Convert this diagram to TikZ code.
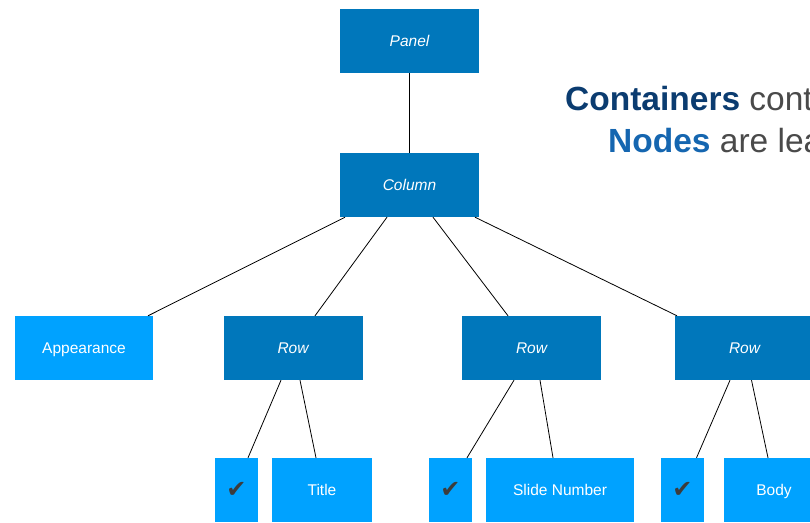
\documentclass[tikz,border=0pt]{standalone}
\usepackage{fontspec}
\setmainfont{Liberation Sans}
\newfontfamily\symfont{DejaVu Sans}
\usepackage{xcolor}
\definecolor{containerblue}{HTML}{0077BB}
\definecolor{leafblue}{HTML}{00A2FF}
\definecolor{checkgray}{HTML}{3C3C3C}
\definecolor{titlenavy}{HTML}{0B3C70}
\definecolor{titleblue}{HTML}{1566B0}
\definecolor{titlegray}{HTML}{4A4A4A}
\tikzset{
  containernode/.style={rectangle,fill=containerblue,text=white,
    minimum width=139pt,minimum height=64pt,inner sep=1pt,
    text height=11pt,text depth=0pt,
    font=\fontsize{15.5}{17}\selectfont\itshape},
  leafnode/.style={rectangle,fill=leafblue,text=white,
    minimum height=64pt,inner sep=1pt,
    text height=11pt,text depth=0pt,
    font=\fontsize{15.5}{17}\selectfont},
  checknode/.style={leafnode,minimum width=43pt,text=checkgray,
    text height=14pt,
    font=\symfont\fontsize{24}{26}\selectfont},
  treeedge/.style={line width=0.8pt,black}
}

\begin{document}
\begin{tikzpicture}[x=1pt,y=-1pt]
  \useasboundingbox (0,0) rectangle (810,522);
  \clip (0,0) rectangle (810,522);

  % containers
  \node[containernode] (panel) at (409.5,41) {Panel};
  \node[containernode] (col) at (409.5,185) {Column};
  \node[containernode] (row1) at (293,348) {Row};
  \node[containernode] (row2) at (531.5,348) {Row};
  \node[containernode] (row3) at (744.5,348) {Row};

  % leaves
  \node[leafnode,minimum width=138pt] (app) at (84,348) {Appearance};
  \node[checknode] (chk1) at (236.5,490) {✔};
  \node[leafnode,minimum width=100pt] (title) at (322,490) {Title};
  \node[checknode] (chk2) at (450.5,490) {✔};
  \node[leafnode,minimum width=148pt] (slide) at (560,490) {Slide Number};
  \node[checknode] (chk3) at (682.5,490) {✔};
  \node[leafnode,minimum width=100pt] (body) at (774,490) {Body};

  \draw[treeedge] (panel.south) -- (col.north);
  \draw[treeedge] ([xshift=-64.5pt]col.south) -- ([xshift=64pt]app.north);
  \draw[treeedge] ([xshift=-22.5pt]col.south) -- ([xshift=22pt]row1.north);
  \draw[treeedge] ([xshift=23.5pt]col.south) -- ([xshift=-23.5pt]row2.north);
  \draw[treeedge] ([xshift=65.5pt]col.south) -- ([xshift=-67.5pt]row3.north);

  \draw[treeedge] ([xshift=-12pt]row1.south) -- ([xshift=11.5pt]chk1.north);
  \draw[treeedge] ([xshift=7pt]row1.south) -- ([xshift=-6pt]title.north);
  \draw[treeedge] ([xshift=-17.5pt]row2.south) -- ([xshift=16.5pt]chk2.north);
  \draw[treeedge] ([xshift=8.5pt]row2.south) -- ([xshift=-7pt]slide.north);
  \draw[treeedge] ([xshift=-14.5pt]row3.south) -- ([xshift=14pt]chk3.north);
  \draw[treeedge] ([xshift=7pt]row3.south) -- ([xshift=-6pt]body.north);

  % heading
  \node[anchor=base west,inner sep=0pt,font=\fontsize{33.5}{36}\selectfont]
    (head1) at (565,110) {\textcolor{titlenavy}{\bfseries Containers} \textcolor{titlegray}{cont}};
  \node[anchor=base west,inner sep=0pt,font=\fontsize{33.5}{36}\selectfont]
    (head2) at (608,152) {\textcolor{titleblue}{\bfseries Nodes} \textcolor{titlegray}{are lea}};
\end{tikzpicture}
\end{document}
